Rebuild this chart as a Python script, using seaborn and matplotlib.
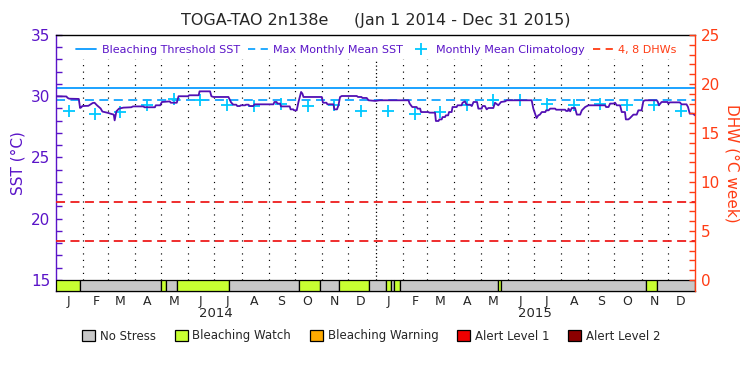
import numpy as np
import pandas as pd
import matplotlib
matplotlib.use('Agg')
import matplotlib.pyplot as plt
from matplotlib.lines import Line2D
from matplotlib.patches import Patch
from matplotlib.ticker import FixedLocator
import seaborn as sns

# ---------------------------------------------------------------------------
# data (day = days since 1 Jan 2014, SST in degC)
# ---------------------------------------------------------------------------
sst_points = [
    (0, 30.00), (12, 29.98), (13, 29.88), (15, 29.80), (26, 29.78), (27.5, 29.04), (29, 29.10),
    (30, 29.20), (37, 29.22), (42, 29.45), (44, 29.47), (47, 29.25), (51, 29.00), (53, 28.75),
    (60, 28.63), (62, 28.58), (66, 28.50), (67, 28.03), (69, 28.77), (72, 28.99), (77, 29.07),
    (86, 29.10), (88, 29.17), (100, 29.17), (101, 29.10), (113, 29.10), (114, 29.26), (119, 29.26),
    (121, 29.53), (130, 29.58), (131, 29.47), (138, 29.47), (140, 30.00), (151, 30.00),
    (152, 30.08), (163, 30.08), (164, 30.40), (176, 30.40), (177.5, 30.00), (180, 29.94),
    (197, 29.94), (200, 29.50), (202.6, 29.31), (206, 29.31), (207, 29.20), (210, 29.20),
    (211, 29.26), (216, 29.26), (217, 29.31), (220, 29.31), (221, 29.20), (225.5, 29.20),
    (226.7, 29.34), (248.4, 29.34), (249.5, 29.53), (252, 29.53), (253, 29.40), (256, 29.40),
    (257, 29.17), (267, 29.17), (268, 28.93), (271, 28.93), (272, 28.85), (275, 28.85),
    (277, 29.53), (280, 30.35), (281.5, 30.21), (282.7, 29.94), (303.6, 29.94), (305, 29.47),
    (309, 29.47), (310, 29.34), (317, 29.34), (318, 28.93), (321, 28.93), (322.7, 29.26),
    (324.5, 29.94), (326.5, 30.02), (343.6, 30.02), (345, 29.94), (349, 29.94), (350, 29.86),
    (355, 29.86), (357, 29.67), (364.6, 29.62), (370, 29.67), (402.7, 29.67), (404, 29.40),
    (407, 29.12), (412, 29.12), (413, 28.99), (416, 28.99), (417, 28.71), (425.5, 28.71),
    (426.5, 28.66), (433, 28.66), (434, 27.98), (437, 27.98), (438, 28.11), (440.6, 28.11),
    (441.6, 28.30), (444.4, 28.30), (445.4, 28.44), (448, 28.44), (449, 28.71), (452, 28.71),
    (453, 29.12), (457.7, 29.12), (458.7, 29.26), (463.4, 29.26), (464.4, 29.47), (467.2, 29.58),
    (469, 29.31), (473, 29.31), (475, 29.20), (477, 29.53), (481, 29.53), (482.5, 28.99),
    (486.3, 28.99), (487.3, 29.20), (490, 29.20), (492, 28.93), (494, 29.04), (499.6, 29.04),
    (501.5, 29.47), (505.3, 29.26), (508.4, 29.53), (513, 29.58), (515, 29.67), (543.4, 29.67),
    (545.3, 28.99), (547.2, 28.58), (549, 28.22), (551, 28.44), (552.8, 28.50), (555, 28.71),
    (559, 28.71), (560, 28.85), (562.7, 28.85), (564.6, 28.99), (570.3, 28.99), (571.3, 28.90),
    (581.7, 28.90), (582.7, 28.80), (584.8, 28.80), (585.5, 28.99), (587.4, 28.77), (589.3, 29.04),
    (593, 29.04), (595, 28.50), (598.8, 28.50), (600.7, 28.85), (604.5, 29.12), (608.3, 29.26),
    (627.4, 29.26), (628.4, 29.12), (631.2, 29.12), (633, 29.40), (636.8, 29.40), (638.7, 29.47),
    (640.6, 29.26), (644.4, 29.26), (646.3, 28.71), (650, 28.71), (651, 28.11), (653.9, 28.11),
    (655.8, 28.22), (659.6, 28.50), (663.4, 28.50), (665.3, 28.85), (669, 28.85), (671, 29.60),
    (673, 29.67), (686, 29.67), (687.3, 29.58), (688.8, 29.26), (691.8, 29.53), (698.7, 29.53),
    (699.4, 29.40), (701.3, 29.50), (712.7, 29.50), (714.6, 29.34), (720.3, 29.34), (722, 29.12),
    (724, 28.58), (727.6, 28.58), (730, 28.44),
]
sst_days = [p[0] for p in sst_points]
sst_vals = [p[1] for p in sst_points]

clim_days = [14.5, 45, 73.5, 104, 134.5, 165, 195.5, 226.5, 257, 287.5, 318, 348.5,
             379.5, 410, 438.5, 469, 499.5, 530, 560.5, 591.5, 622, 652.5, 683, 713.5]
clim_vals = [28.77, 28.53, 28.68, 29.26, 29.75, 29.67, 29.32, 29.24, 29.36, 29.22, 29.32, 28.80,
             28.77, 28.53, 28.68, 29.26, 29.72, 29.67, 29.34, 29.26, 29.40, 29.26, 29.28, 28.83]

threshold_sst = 30.67
mmm_sst = 29.67
dhw_levels = [4, 8]

stress_start = [0, 27, 120, 125.3, 138.7, 198, 278, 301.7, 323.8, 358, 376.5, 382.9, 386.7,
                393, 505.5, 508, 674, 687]
stress_end = [27, 120, 125.3, 138.7, 198, 278, 301.7, 323.8, 358, 376.5, 382.9, 386.7, 393,
              505.5, 508, 674, 687, 730]
stress_level = ['watch', 'none', 'watch', 'none', 'watch', 'none', 'watch', 'none', 'watch',
                'none', 'watch', 'none', 'watch', 'none', 'watch', 'none', 'watch', 'none']

stress_names = ['No Stress', 'Bleaching Watch', 'Bleaching Warning', 'Alert Level 1', 'Alert Level 2']
stress_keys = ['none', 'watch', 'warning', 'alert1', 'alert2']
stress_colors = {'none': '#c8c8c8', 'watch': '#c8ff32', 'warning': '#ffaa00',
                 'alert1': '#ee0000', 'alert2': '#8c0000'}

month_letters = list('JFMAMJJASOND') * 2
years = ['2014', '2015']

# ---------------------------------------------------------------------------
purple = '#5a14c8'
orange = '#ff3c14'
sst_col = '#5210b4'
thr_col = '#0a9bff'
mmm_col = '#14a5ff'
clim_col = '#00c8ff'
dhw_col = '#ee1c1c'

sns.set_style('white')
plt.rcParams['font.family'] = ['DejaVu Sans']

start = pd.Timestamp('2014-01-01')
month_starts = (pd.date_range('2014-01-01', '2015-12-01', freq='MS') - start).days.values
month_mid = month_starts + 14.5

fig = plt.figure(figsize=(7.5, 3.75), dpi=100)
ax = fig.add_axes([56 / 750, 1 - 291 / 375, 639 / 750, 256 / 375])
ax2 = ax.twinx()

ax.set_xlim(0, 730)
ax.set_ylim(14.1, 35)
ax2.set_ylim((14.1 - 15) * 1.25, 25)

# month separators
ax.vlines([d for d in month_starts[1:] if d != 365], 15, 33, colors='k',
          linestyles=(0, (1, 4.5)), lw=0.85, zorder=1)
ax.vlines([365], 15, 33, colors='k', linestyles=(0, (1, 2)), lw=0.9, zorder=1)

# reference lines
ax.axhline(threshold_sst, color=thr_col, lw=1.3, zorder=2)
ax.axhline(mmm_sst, color=mmm_col, lw=1.3, ls=(0, (5, 3)), zorder=2)
for lev in dhw_levels:
    ax2.axhline(lev, color=dhw_col, lw=1.3, ls=(0, (5, 3)))

sns.scatterplot(x=clim_days, y=clim_vals, marker='+', s=70, color=clim_col,
                linewidth=1.3, ax=ax, zorder=3)
sns.lineplot(x=sst_days, y=sst_vals, color=sst_col, lw=1.3, ax=ax, zorder=4)

# stress bar
ax.bar(stress_start, 0.9, width=np.array(stress_end) - np.array(stress_start), bottom=14.1,
       align='edge', color=[stress_colors[k] for k in stress_level], edgecolor='k',
       linewidth=0.9, zorder=5)

# axes styling
ax.yaxis.set_major_locator(FixedLocator([15, 20, 25, 30, 35]))
ax.yaxis.set_minor_locator(FixedLocator(list(range(15, 36))))
ax.tick_params(axis='y', which='both', direction='in', length=4, width=1, colors=purple,
               labelsize=11, pad=4, left=True, right=False)
ax.set_ylabel('SST (°C)', color=purple, fontsize=11, labelpad=4)
ax.set_xticks(month_mid)
ax.set_xticklabels(month_letters, fontsize=9)
ax.tick_params(axis='x', length=0, pad=3)

ax2.yaxis.set_major_locator(FixedLocator([0, 5, 10, 15, 20, 25]))
ax2.yaxis.set_minor_locator(FixedLocator(list(range(0, 26))))
ax2.tick_params(axis='y', which='both', direction='in', length=4, width=1, colors=orange,
                labelsize=11, pad=4)
ax2.set_ylabel('DHW (°C week)', color=orange, fontsize=11, rotation=270, labelpad=14)

for s in ['top', 'bottom']:
    ax.spines[s].set_color('k')
ax.spines['left'].set_color(purple)
ax.spines['right'].set_visible(False)
for s in ['top', 'bottom', 'left']:
    ax2.spines[s].set_visible(False)
ax2.spines['right'].set_color(orange)
for sp in list(ax.spines.values()) + list(ax2.spines.values()):
    sp.set_linewidth(1.0)

for yr, xd in zip(years, [182.5, 547.5]):
    ax.text(xd, -0.087, yr, transform=ax.get_xaxis_transform(), ha='center', va='center',
            fontsize=9.5)

# top legend
handles = [Line2D([], [], color=thr_col, lw=1.3),
           Line2D([], [], color=mmm_col, lw=1.3, ls=(0, (4, 3))),
           Line2D([], [], color=clim_col, marker='+', ls='none', ms=8, mew=1.3),
           Line2D([], [], color=orange, lw=1.3, ls=(0, (4, 3)))]
labels = ['Bleaching Threshold SST', 'Max Monthly Mean SST', 'Monthly Mean Climatology', '4, 8 DHWs']
leg = ax.legend(handles, labels, loc='center', bbox_to_anchor=(0.5015, 0.94), ncol=4,
                frameon=False, fontsize=8, handlelength=1.8, handletextpad=0.5,
                columnspacing=0.7, borderpad=0)
for t, c in zip(leg.get_texts(), [purple, purple, purple, orange]):
    t.set_color(c)

# bottom legend
patches = [Patch(facecolor=stress_colors[k], edgecolor='k', lw=0.9) for k in stress_keys]
fig.legend(patches, stress_names, loc='center', bbox_to_anchor=(0.495, 1 - 336 / 375), ncol=5,
           frameon=False, fontsize=8.5, handlelength=1.1, handleheight=1.1,
           handletextpad=0.4, columnspacing=1.6, borderpad=0)

fig.text(376 / 750, 1 - 20 / 375, 'TOGA-TAO 2n138e     (Jan 1 2014 - Dec 31 2015)',
         ha='center', va='center', fontsize=11.5)

plt.savefig('out.png', dpi=100)
